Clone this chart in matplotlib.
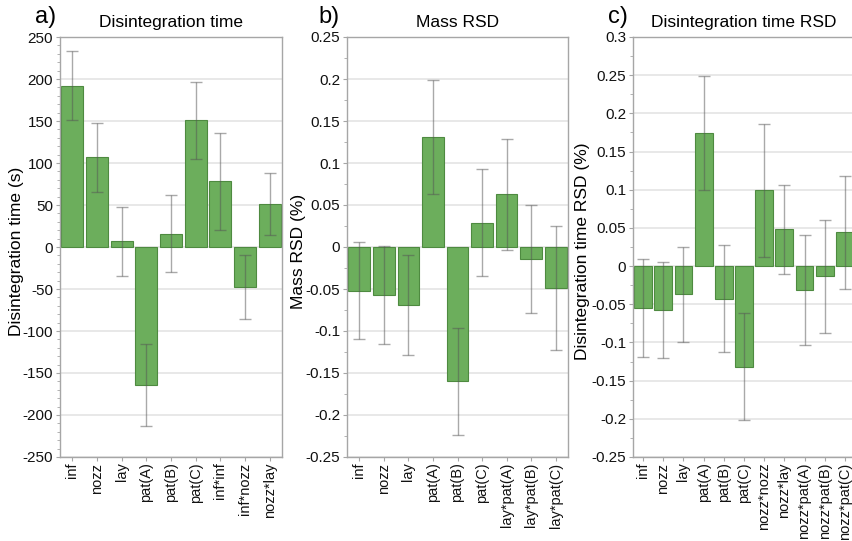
import matplotlib
matplotlib.use("Agg")
import matplotlib.pyplot as plt
from matplotlib.ticker import MultipleLocator, AutoMinorLocator, FuncFormatter

plt.rcParams["font.family"] = ["Liberation Sans", "DejaVu Sans"]
plt.rcParams["axes.unicode_minus"] = False

# a) Disintegration time
terms_a = ["inf", "nozz", "lay", "pat(A)", "pat(B)", "pat(C)", "inf*inf", "inf*nozz", "nozz*lay"]
vals_a = [192, 107, 7, -164.5, 16, 151, 78, -48, 51]
err_a = [41, 41, 41, 49, 46, 46, 58, 38, 37]

# b) Mass RSD
terms_b = ["inf", "nozz", "lay", "pat(A)", "pat(B)", "pat(C)", "lay*pat(A)", "lay*pat(B)", "lay*pat(C)"]
vals_b = [-0.052, -0.057, -0.069, 0.131, -0.160, 0.029, 0.063, -0.014, -0.049]
err_b = [0.058, 0.058, 0.060, 0.068, 0.064, 0.064, 0.066, 0.064, 0.074]

# c) Disintegration time RSD
terms_c = ["inf", "nozz", "lay", "pat(A)", "pat(B)", "pat(C)", "nozz*nozz", "nozz*lay",
           "nozz*pat(A)", "nozz*pat(B)", "nozz*pat(C)"]
vals_c = [-0.055, -0.058, -0.037, 0.174, -0.043, -0.132, 0.099, 0.048, -0.031, -0.013, 0.044]
err_c = [0.064, 0.063, 0.062, 0.075, 0.070, 0.070, 0.087, 0.058, 0.072, 0.074, 0.074]

BAR = "#6cae5c"
EDGE = "#4e8a40"
SPINE = "#a6a6a6"
GRID = "#e8e8e8"

W, H = 852, 541
fig = plt.figure(figsize=(W / 100, H / 100), dpi=100)


def px_axes(x0, x1, y0, y1):
    return fig.add_axes([x0 / W, 1 - y1 / H, (x1 - x0) / W, (y1 - y0) / H])


fmt = FuncFormatter(lambda v, _: "%g" % round(v, 4))


def panel(ax, terms, vals, errs, ylim, major, minor_n, title, ylabel, tag, tag_x, ylab_x):
    xs = range(len(terms))
    ax.bar(xs, vals, width=0.88, color=BAR, edgecolor=EDGE, linewidth=0.8, zorder=2)
    ax.errorbar(xs, vals, yerr=errs, fmt="none", ecolor="#555555", alpha=0.5,
                elinewidth=1.0, capsize=4, capthick=1.0, zorder=3)
    ax.set_xlim(-0.5, len(terms) - 0.5)
    ax.set_ylim(*ylim)
    ax.yaxis.set_major_locator(MultipleLocator(major))
    ax.yaxis.set_minor_locator(AutoMinorLocator(minor_n))
    ax.yaxis.set_major_formatter(fmt)
    ax.set_xticks(list(xs))
    ax.set_xticklabels(terms, rotation=90)
    ax.tick_params(axis="both", colors=SPINE, labelcolor="#111111")
    ax.tick_params(axis="y", which="major", length=3, pad=2, labelsize=11)
    ax.tick_params(axis="y", which="minor", length=2.5, colors=SPINE)
    ax.tick_params(axis="x", length=3, pad=1, labelsize=10.5)
    ax.grid(axis="y", color=GRID, linewidth=1.4, zorder=0)
    ax.set_axisbelow(True)
    for s in ax.spines.values():
        s.set_color(SPINE)
        s.set_linewidth(1.0)
    ax.set_title(title, fontsize=12.5, pad=7)
    ax.set_ylabel(ylabel, fontsize=12.5)
    pos = ax.get_position()
    ax.yaxis.set_label_coords((ylab_x / W - pos.x0) / pos.width, 0.49)
    fig.text(tag_x / W, 1 - 17 / H, tag, fontsize=17, va="center", ha="left")


ax_a = px_axes(60, 282, 37, 457)
panel(ax_a, terms_a, vals_a, err_a, (-250, 250), 50, 5, "Disintegration time",
      "Disintegration time (s)", "a)", 35, 24)

ax_b = px_axes(347, 568, 37, 457)
panel(ax_b, terms_b, vals_b, err_b, (-0.25, 0.25), 0.05, 2, "Mass RSD",
      "Mass RSD (%)", "b)", 318, 306)

ax_c = px_axes(633, 855, 37, 457)
panel(ax_c, terms_c, vals_c, err_c, (-0.25, 0.3), 0.05, 2, "Disintegration time RSD",
      "Disintegration time RSD (%)", "c)", 608, 590)

fig.savefig("out.png", dpi=100)
